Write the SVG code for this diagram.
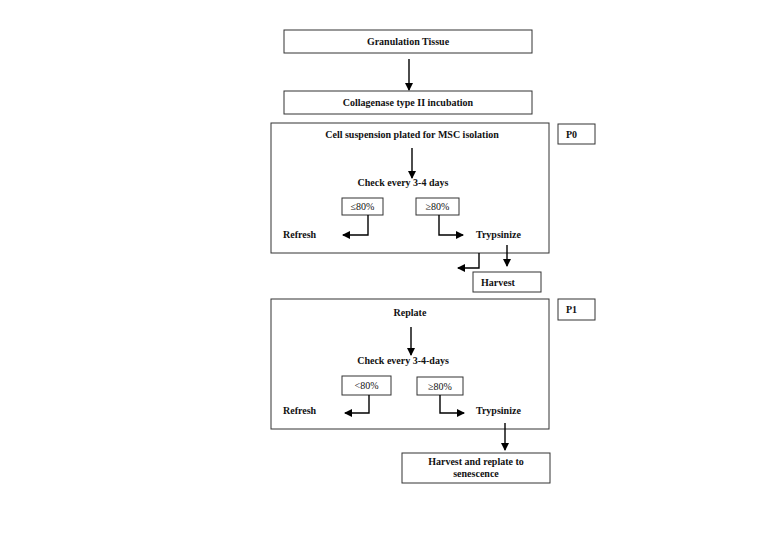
<svg xmlns="http://www.w3.org/2000/svg" width="779" height="551" viewBox="0 0 779 551">
<style>
.box{fill:#fff;stroke:#333;stroke-width:1}
.b{font-family:"Liberation Serif",serif;font-weight:bold;font-size:10px;fill:#111}
.r{font-family:"Liberation Serif",serif;font-size:10px;fill:#111}
.c{text-anchor:middle}
.ln{fill:none;stroke:#000;stroke-width:1.4}
</style>
<defs>
<marker id="ah" markerWidth="8" markerHeight="8" refX="7" refY="4" orient="auto" markerUnits="userSpaceOnUse">
<path d="M0,0 L8,4 L0,8 Z" fill="#000"/>
</marker>
</defs>
<rect width="779" height="551" fill="#fff"/>
<g id="granulation"><rect class="box" x="284" y="30" width="248" height="23"/><text class="b c" x="408" y="45">Granulation Tissue</text></g>
<g id="collagenase"><rect class="box" x="284" y="91" width="248" height="23"/><text class="b c" x="408" y="106">Collagenase type II incubation</text></g>
<g id="p0box"><rect class="box" x="271" y="123" width="278" height="130"/></g>
<g id="p0label"><rect class="box" x="558" y="124" width="37" height="20"/><text class="b" x="566" y="138">P0</text></g>
<g id="cellsusp"><text class="b c" x="412" y="138">Cell suspension plated for MSC isolation</text></g>
<g id="check0"><text class="b c" x="403" y="186">Check every 3-4 days</text></g>
<g id="le80a"><rect class="box" x="342" y="198" width="41" height="17"/><text class="r c" x="362.5" y="210">≤80%</text></g>
<g id="ge80a"><rect class="box" x="416" y="198" width="43" height="17"/><text class="r c" x="437.5" y="210">≥80%</text></g>
<g id="refresh0"><text class="b" x="283" y="238">Refresh</text></g>
<g id="tryp0"><text class="b" x="476" y="238">Trypsinize</text></g>
<g id="harvest0"><rect class="box" x="473" y="272" width="68" height="20"/><text class="b" x="481" y="286">Harvest</text></g>
<g id="p1box"><rect class="box" x="271" y="299" width="278" height="130"/></g>
<g id="p1label"><rect class="box" x="558" y="299" width="37" height="21"/><text class="b" x="566" y="313">P1</text></g>
<g id="replate"><text class="b c" x="410" y="316">Replate</text></g>
<g id="check1"><text class="b c" x="403" y="364">Check every 3-4-days</text></g>
<g id="lt80b"><rect class="box" x="342" y="376" width="49" height="19"/><text class="r c" x="366.5" y="389">&lt;80%</text></g>
<g id="ge80b"><rect class="box" x="417" y="377" width="46" height="18"/><text class="r c" x="440" y="390">≥80%</text></g>
<g id="refresh1"><text class="b" x="283" y="414">Refresh</text></g>
<g id="tryp1"><text class="b" x="476" y="414">Trypsinize</text></g>
<g id="harvest1"><rect class="box" x="402" y="453" width="148" height="30"/><text class="b c" x="476" y="465">Harvest and replate to</text><text class="b c" x="476" y="477">senescence</text></g>
<g id="connectors">
<path class="ln" d="M409,59 V90" marker-end="url(#ah)"/>
<path class="ln" d="M412,148 V178" marker-end="url(#ah)"/>
<path class="ln" d="M368,215 V235 H343" marker-end="url(#ah)"/>
<path class="ln" d="M439,215 V235 H463" marker-end="url(#ah)"/>
<path class="ln" d="M479,253 V268 H458" marker-end="url(#ah)"/>
<path class="ln" d="M507,245 V266" marker-end="url(#ah)"/>
<path class="ln" d="M411,327 V355" marker-end="url(#ah)"/>
<path class="ln" d="M369,395 V413 H345" marker-end="url(#ah)"/>
<path class="ln" d="M440,395 V413 H464" marker-end="url(#ah)"/>
<path class="ln" d="M505,423 V450" marker-end="url(#ah)"/>
</g>
</svg>
